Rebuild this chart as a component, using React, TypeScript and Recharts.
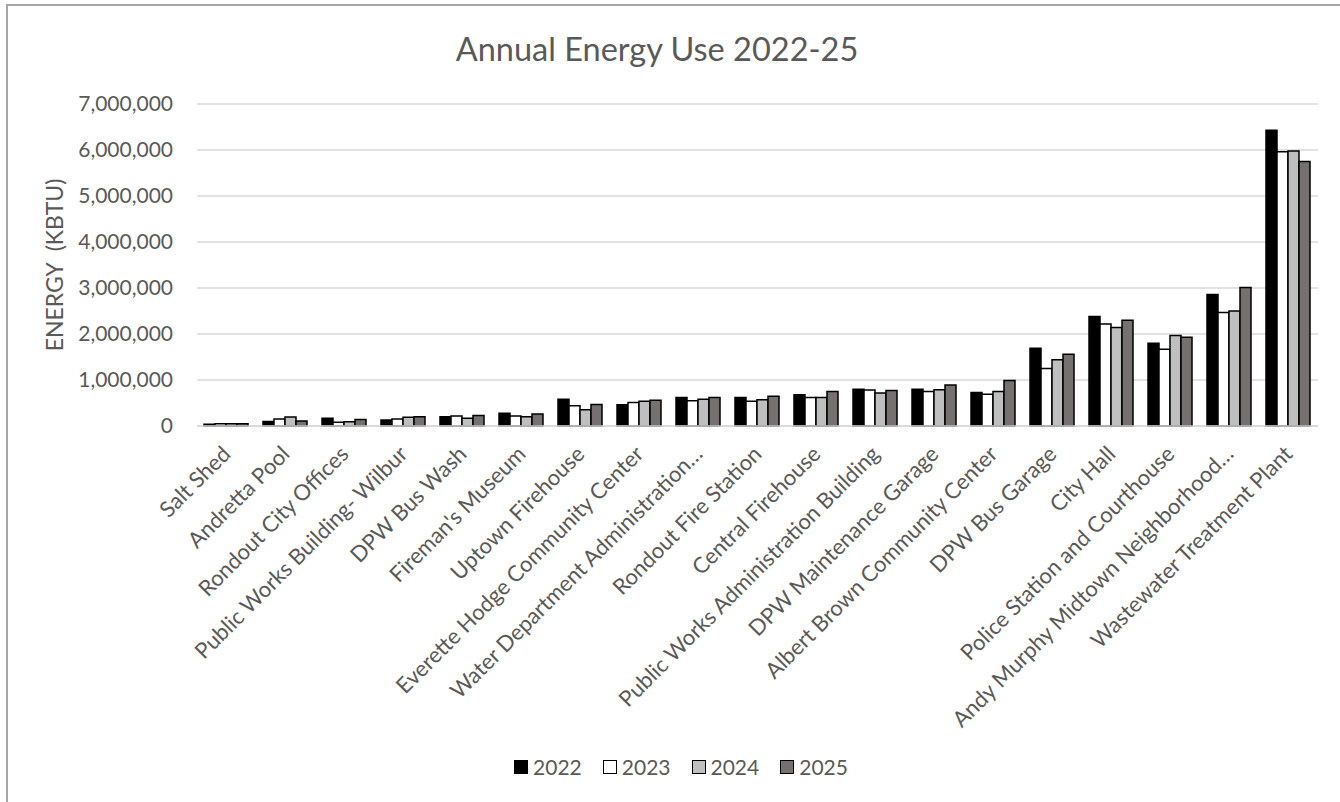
import { BarChart, Bar, XAxis, YAxis, CartesianGrid } from 'recharts';

const categories = [
  'Salt Shed',
  'Andretta Pool',
  'Rondout City Offices',
  'Public Works Building- Wilbur',
  'DPW Bus Wash',
  "Fireman's Museum",
  'Uptown Firehouse',
  'Everette Hodge Community Center',
  'Water Department Administration…',
  'Rondout Fire Station',
  'Central Firehouse',
  'Public Works Administration Building',
  'DPW Maintenance Garage',
  'Albert Brown Community Center',
  'DPW Bus Garage',
  'City Hall',
  'Police Station and Courthouse',
  'Andy Murphy Midtown Neighborhood…',
  'Wastewater Treatment Plant',
];

const use2022 = [40000, 100000, 170000, 130000, 200000, 275000, 580000, 460000, 620000, 620000, 680000, 800000, 800000, 730000, 1690000, 2380000, 1800000, 2860000, 6430000];
const use2023 = [50000, 150000, 80000, 150000, 220000, 220000, 440000, 510000, 550000, 540000, 620000, 780000, 750000, 690000, 1250000, 2220000, 1670000, 2470000, 5960000];
const use2024 = [50000, 195000, 90000, 190000, 170000, 200000, 355000, 540000, 580000, 570000, 620000, 720000, 790000, 750000, 1440000, 2140000, 1970000, 2500000, 5980000];
const use2025 = [50000, 110000, 140000, 200000, 230000, 260000, 470000, 560000, 620000, 645000, 750000, 770000, 890000, 990000, 1560000, 2300000, 1930000, 3010000, 5750000];

const yTicks = [0, 1000000, 2000000, 3000000, 4000000, 5000000, 6000000, 7000000];

const seriesList = [
  { key: 'y2022', name: '2022', fill: '#000000' },
  { key: 'y2023', name: '2023', fill: '#ffffff' },
  { key: 'y2024', name: '2024', fill: '#bfbfbf' },
  { key: 'y2025', name: '2025', fill: '#767171' },
];

const FONT = 'Lato, "Open Sans", sans-serif';
const TEXT = '#595959';

const data = categories.map((name, i) => ({
  name,
  y2022: use2022[i],
  y2023: use2023[i],
  y2024: use2024[i],
  y2025: use2025[i],
}));

function SlantTick(props: any) {
  const { x, y, payload } = props;
  return (
    <g transform={`translate(${x},${y})`}>
      <text
        transform="rotate(-45)"
        textAnchor="end"
        dy="0.35em"
        fill={TEXT}
        fontSize={22}
        fontFamily={FONT}
      >
        {payload.value}
      </text>
    </g>
  );
}

export default function App() {
  return (
    <div
      style={{
        position: 'absolute',
        left: 0,
        top: 0,
        width: 1340,
        height: 802,
        background: '#fff',
        overflow: 'hidden',
        fontFamily: FONT,
      }}
    >
      <div
        style={{
          position: 'absolute',
          left: 6,
          top: 4,
          width: 1400,
          height: 900,
          borderLeft: '2px solid #a6a6a6',
          borderTop: '2px solid #a6a6a6',
        }}
      />
      <div
        style={{
          position: 'absolute',
          left: 407,
          width: 500,
          top: 29,
          textAlign: 'center',
          fontSize: 32.5,
          color: TEXT,
          whiteSpace: 'nowrap',
        }}
      >
        Annual Energy Use 2022-25
      </div>
      <div style={{ position: 'absolute', left: 0, top: 0 }}>
        <BarChart
          width={1340}
          height={802}
          data={data}
          margin={{ top: 104, right: 22, left: 7, bottom: 0 }}
          barCategoryGap={7}
          barGap={0}
        >
          <CartesianGrid vertical={false} stroke="#d9d9d9" strokeWidth={1.5} />
          <XAxis
            dataKey="name"
            interval={0}
            height={376}
            tickLine={false}
            stroke="#d9d9d9"
            strokeWidth={1.5}
            tick={<SlantTick />}
            tickSize={0}
            tickMargin={24}
          />
          <YAxis
            width={190}
            domain={[0, 7000000]}
            ticks={yTicks}
            axisLine={false}
            tickLine={false}
            tickSize={0}
            tickMargin={24}
            tickFormatter={(v: number) => v.toLocaleString('en-US')}
            tick={{ fill: TEXT, fontSize: 21, fontFamily: FONT }}
            label={{
              value: 'ENERGY \u00A0(KBTU)',
              angle: -90,
              position: 'insideLeft',
              offset: 48,
              style: { textAnchor: 'middle', fill: TEXT, fontSize: 23, fontFamily: FONT },
            }}
          />
          {seriesList.map((s) => (
            <Bar
              key={s.key}
              dataKey={s.key}
              name={s.name}
              fill={s.fill}
              stroke="#000"
              strokeWidth={1.5}
              isAnimationActive={false}
            />
          ))}
        </BarChart>
      </div>
      <div
        style={{
          position: 'absolute',
          left: 0,
          width: 1362,
          top: 754,
          display: 'flex',
          justifyContent: 'center',
          gap: 21,
          fontSize: 21,
          color: TEXT,
        }}
      >
        {seriesList.map((s) => (
          <div key={s.key} style={{ display: 'flex', alignItems: 'center', gap: 5 }}>
            <span
              style={{
                display: 'inline-block',
                width: 12,
                height: 12,
                background: s.fill,
                border: '1.5px solid #000',
              }}
            />
            <span>{s.name}</span>
          </div>
        ))}
      </div>
    </div>
  );
}
